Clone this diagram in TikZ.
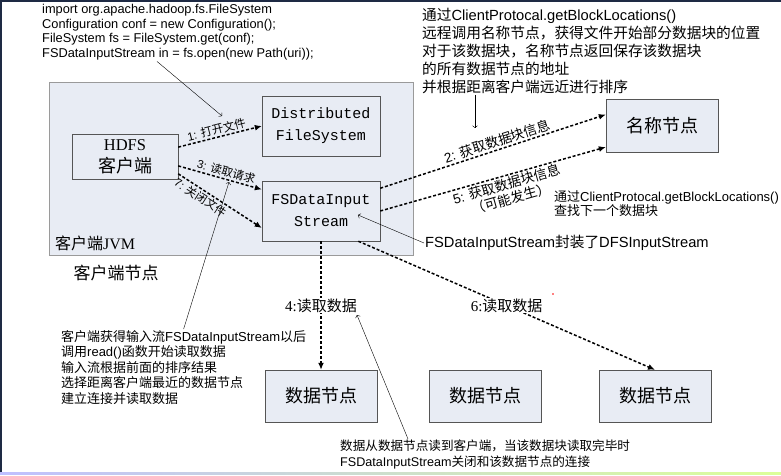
\documentclass[tikz,border=0pt]{standalone}
\usepackage{fontspec}
\setmainfont{Liberation Sans}
\newfontfamily\cjk{Noto Sans CJK SC}
\newfontfamily\boxmono{Liberation Mono}
\newfontfamily\boxserif{Liberation Serif}
\newcommand{\zh}[1]{{\cjk #1}}
\usetikzlibrary{arrows.meta}
\definecolor{boxfill}{HTML}{E8ECF4}
\definecolor{boxline}{HTML}{555555}
\definecolor{jvmline}{HTML}{9A9A9A}
\definecolor{framedark}{HTML}{1E2A44}
\tikzset{
  box/.style={draw=boxline,fill=boxfill,inner sep=0pt,align=center},
  call/.style={line width=1.5pt,dash pattern=on 3pt off 2pt,-{Latex[length=7pt,width=6pt]}},
  note/.style={thin,->},
  steplabel/.style={sloped,inner sep=1.5pt,align=center},
  sz/.style={font=\fontsize{#1}{#1}\selectfont}
}

\begin{document}
\begin{tikzpicture}[x=1pt,y=-1pt]
  \useasboundingbox (0,0) rectangle (781,475);
  % frame of the slide
  \fill[framedark] (0,0) rectangle (781,1.5);
  \fill[framedark] (0,0) rectangle (1.5,473);
  \shade[left color=blue!25,right color=green!35!yellow!40] (0,472) rectangle (781,474.5);

  \coordinate (CodeTip) at (222,116);
  \coordinate (ReadTip) at (229,182);
  \coordinate (WrapTip) at (358,215);
  \coordinate (NameTip) at (475,128);
  \coordinate (CloseTip) at (357,315);

  % client side
  \node[box,draw=jvmline,minimum width=364,minimum height=173] (jvm) at (231,168.5) {};
  \node[anchor=west,inner sep=0pt,sz=16] (jvmlabel) at (55,243) {\zh{客户端}{\boxserif JVM}};
  \node[inner sep=0pt,sz=17] (clientnode) at (116,273) {\zh{客户端节点}};
  \node[box,minimum width=106,minimum height=45,font=\fontsize{16.5}{22}\selectfont] (hdfs) at (125,156.5)
     {{\boxserif HDFS}\\\zh{\fontsize{18}{22}\selectfont 客户端}};
  \node[box,minimum width=118,minimum height=60,font=\fontsize{15}{22}\selectfont\boxmono] (dfs) at (321,126)
     {Distributed\\FileSystem};
  \node[box,minimum width=118,minimum height=60,font=\fontsize{15}{22}\selectfont\boxmono] (fsin) at (321,211)
     {FSDataInput\\Stream};

  % name node and data nodes
  \node[box,minimum width=112,minimum height=53,sz=18] (nn) at (662,125.5) {\zh{名称节点}};
  \node[box,minimum width=112,minimum height=52,sz=18] (dnone) at (321,396) {\zh{数据节点}};
  \node[box,minimum width=112,minimum height=52,sz=18] (dntwo) at (485,396) {\zh{数据节点}};
  \node[box,minimum width=112,minimum height=52,sz=18] (dnthree) at (655,396) {\zh{数据节点}};

  % notes
  \node[anchor=north west,inner sep=1pt,align=left,font=\fontsize{12.8}{14.7}\selectfont] (code) at (41,3)
     {import org.apache.hadoop.fs.FileSystem\\
      Configuration conf = new Configuration();\\
      FileSystem fs = FileSystem.get(conf);\\
      FSDataInputStream in = fs.open(new Path(uri));};
  \node[anchor=north west,inner sep=1pt,align=left,font=\fontsize{14.7}{18}\selectfont] (nnnote) at (421,7)
     {\zh{通过}ClientProtocal.getBlockLocations()\\
      \zh{远程调用名称节点，获得文件开始部分数据块的位置}\\
      \zh{对于该数据块，名称节点返回保存该数据块}\\
      \zh{的所有数据节点的地址}\\
      \zh{并根据距离客户端远近进行排序}};
  \node[anchor=west,inner sep=1pt,sz=14.7] (wrapnote) at (424,243)
     {FSDataInputStream\zh{封装了}DFSInputStream};
  \node[anchor=west,inner sep=1pt,align=left,font=\fontsize{13}{13.5}\selectfont] (blocknote) at (553,203.5)
     {\zh{通过}ClientProtocal.getBlockLocations()\\
      \zh{查找下一个数据块}};
  \node[anchor=north west,inner sep=1pt,align=left,font=\fontsize{13}{15.5}\selectfont] (readnote) at (60,329)
     {\zh{客户端获得输入流}FSDataInputStream\zh{以后}\\
      \zh{调用}read()\zh{函数开始读取数据}\\
      \zh{输入流根据前面的排序结果}\\
      \zh{选择距离客户端最近的数据节点}\\
      \zh{建立连接并读取数据}};
  \node[anchor=north west,inner sep=1pt,align=left,font=\fontsize{12.6}{16}\selectfont] (closenote) at (339,439)
     {\zh{数据从数据节点读到客户端，当该数据块读取完毕时}\\
      FSDataInputStream\zh{关闭和该数据节点的连接}};

  % calls between the parts
  \draw[call] (hdfs.10) -- (dfs.west)
     node[steplabel,above,pos=.48,sz=11.5] {1: \zh{打开文件}};
  \draw[call] (hdfs.-10) -- (fsin.160)
     node[steplabel,above,pos=.55,sz=11.5] {3: \zh{读取请求}};
  \draw[call] (hdfs.-18) -- (fsin.196)
     node[steplabel,below,pos=.32,sz=11.5] {7: \zh{关闭文件}};
  \draw[call] (fsin.21) -- (nn.169)
     node[steplabel,above,pos=.53,sz=13.5] {2: \zh{获取数据块信息}};
  \draw[call] (fsin.east) -- (nn.201)
     node[steplabel,below,pos=.55,font=\fontsize{13.5}{15}\selectfont] {5: \zh{获取数据块信息}\\\zh{（可能发生）}};
  \draw[call] (fsin.south) -- (dnone.north)
     node[midway,fill=white,inner sep=1pt,sz=15] {{\boxserif 4:}\zh{读取数据}};
  \draw[call] (fsin.-39) -- (dnthree.north)
     node[midway,fill=white,inner sep=1pt,sz=15] {{\boxserif 6:}\zh{读取数据}};

  % pointers from the notes
  \draw[note] ([xshift=116pt]code.south west) -- (CodeTip);
  \draw[note] ([xshift=54pt]nnnote.south west) -- (NameTip);
  \draw[note] (wrapnote.west) -- (WrapTip);
  \draw[note] (readnote.north) -- (ReadTip);
  \draw[note] ([xshift=69pt]closenote.north west) -- (CloseTip);

  \fill[red] (553,294) circle (0.8);
\end{tikzpicture}
\end{document}
